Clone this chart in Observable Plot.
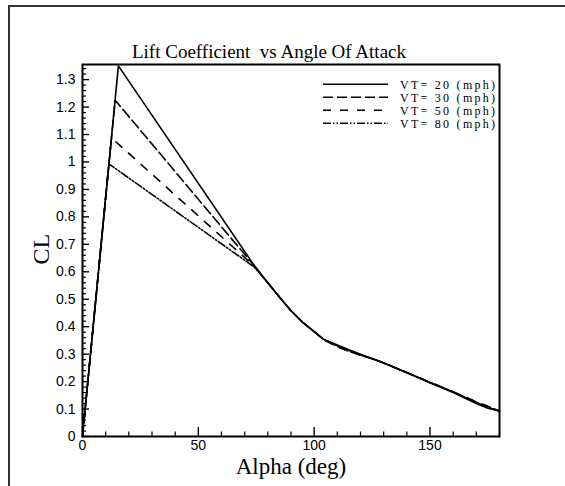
<!DOCTYPE html>
<html>
<head>
<meta charset="utf-8">
<script src="https://cdn.jsdelivr.net/npm/d3@7"></script>
<script src="https://cdn.jsdelivr.net/npm/@observablehq/plot@0.6"></script>
<style>
  html, body { margin: 0; padding: 0; background: #fff; }
  #page { position: relative; width: 565px; height: 486px; overflow: hidden; background: #fff; }
  #border { position: absolute; left: 8px; top: 5px; right: -10px; bottom: -10px;
            border-top: 2px solid #333; border-left: 2px solid #333; }
  #chart { position: absolute; left: 0; top: 0; }
</style>
</head>
<body>
<div id="page"><div id="border"></div><div id="chart"></div></div>
<script>
// Lift coefficient versus angle of attack, four tail velocities.
const title = "Lift Coefficient  vs Angle Of Attack";
const xLabel = "Alpha (deg)";
const yLabel = "CL";

const seriesNames = ["VT= 20 (mph)", "VT= 30 (mph)", "VT= 50 (mph)", "VT= 80 (mph)"];
const seriesDash = [null, "10,4", "8,9", "8,2,1.5,2,1.5,2"];

const vt20Alpha = [0, 15.5, 75, 80, 85, 90, 95, 100, 104, 110, 115, 120, 125, 130, 140, 150, 160, 165, 170, 175, 180];
const vt20CL    = [0, 1.35, 0.612, 0.56, 0.508, 0.458, 0.416, 0.382, 0.354, 0.333, 0.316, 0.300, 0.284, 0.268, 0.232, 0.196, 0.160, 0.140, 0.120, 0.103, 0.092];

const vt30Alpha = [0, 14.1, 75, 80, 85, 90, 95, 100, 104, 110, 115, 120, 125, 130, 140, 150, 160, 165, 170, 175, 180];
const vt30CL    = [0, 1.225, 0.613, 0.56, 0.508, 0.458, 0.416, 0.382, 0.354, 0.328, 0.310, 0.296, 0.283, 0.268, 0.233, 0.197, 0.162, 0.143, 0.124, 0.108, 0.094];

const vt50Alpha = [0, 12.5, 75, 80, 85, 90, 95, 100, 104, 110, 115, 120, 125, 130, 140, 150, 160, 165, 170, 175, 180];
const vt50CL    = [0, 1.088, 0.614, 0.56, 0.508, 0.458, 0.416, 0.382, 0.354, 0.326, 0.312, 0.297, 0.284, 0.268, 0.233, 0.198, 0.163, 0.145, 0.127, 0.110, 0.095];

const vt80Alpha = [0, 11.4, 74, 80, 85, 90, 95, 100, 104, 110, 115, 120, 125, 130, 140, 150, 160, 165, 170, 175, 180];
const vt80CL    = [0, 0.993, 0.618, 0.56, 0.508, 0.458, 0.416, 0.382, 0.354, 0.330, 0.313, 0.298, 0.284, 0.268, 0.233, 0.197, 0.162, 0.143, 0.125, 0.106, 0.093];

const xMajor = [0, 50, 100, 150];
const xMinor = d3.range(0, 181, 10).filter(v => v % 50 !== 0);
const yMajor = d3.range(0, 14).map(i => +(i / 10).toFixed(1));
const yMinor = d3.range(0, 68).map(i => +(i * 0.02).toFixed(2)).filter(v => Math.round(v * 100) % 10 !== 0);

const series = [
  {alpha: vt20Alpha, cl: vt20CL},
  {alpha: vt30Alpha, cl: vt30CL},
  {alpha: vt50Alpha, cl: vt50CL},
  {alpha: vt80Alpha, cl: vt80CL}
].map((s, i) => ({
  name: seriesNames[i],
  dash: seriesDash[i],
  rows: s.alpha.map((a, j) => ({alpha: a, cl: s.cl[j], series: seriesNames[i]}))
}));

const W = 565, H = 486;
const M = {left: 82, right: 66, top: 64, bottom: 50};
const plotW = W - M.left - M.right;
const plotH = H - M.top - M.bottom;

const serif = "'Liberation Serif', 'Times New Roman', serif";
const fmtY = d => String(+d.toFixed(1));

const chart = Plot.plot({
  width: W,
  height: H,
  marginLeft: M.left,
  marginRight: M.right,
  marginTop: M.top,
  marginBottom: M.bottom,
  style: {fontFamily: "'Liberation Sans', Arial, sans-serif", fontSize: "14px", color: "#000", background: "transparent", overflow: "visible"},
  x: {domain: [0, 180], label: null},
  y: {domain: [0, 1.355], label: null},
  marks: [
    // inward ticks
    Plot.tickY(yMinor, {y: d => d, insetRight: plotW - 4, stroke: "#000", strokeWidth: 1.2}),
    Plot.tickY(yMajor, {y: d => d, insetRight: plotW - 7, stroke: "#000", strokeWidth: 1.4}),
    Plot.tickX(xMinor, {x: d => d, insetTop: plotH - 4.5, stroke: "#000", strokeWidth: 1.2}),
    Plot.tickX(xMajor, {x: d => d, insetTop: plotH - 9, stroke: "#000", strokeWidth: 1.4}),
    // tick labels
    Plot.axisY(yMajor, {tickSize: 0, tickPadding: 7, tickFormat: fmtY, fontSize: 14, label: null}),
    Plot.axisX(xMajor, {tickSize: 0, tickPadding: 4, tickFormat: d => String(d), fontSize: 14, label: null}),
    // curves
    ...series.map(s => Plot.line(s.rows, {
      x: "alpha", y: "cl", stroke: "#000", strokeWidth: 1.6,
      strokeDasharray: s.dash, strokeLinejoin: "miter"
    })),
    Plot.frame({stroke: "#000", strokeWidth: 2}),
    // titles
    Plot.text([title], {frameAnchor: "top", dx: -22, dy: -20, fontFamily: serif, fontSize: 19, fill: "#000"}),
    Plot.text([xLabel], {frameAnchor: "bottom", dy: 37, fontFamily: serif, fontSize: 23, fill: "#000"}),
    Plot.text([yLabel], {frameAnchor: "left", dx: -41, dy: 14, rotate: -90, fontFamily: serif, fontSize: 24, fill: "#000"})
  ]
});

// legend in the upper right of the frame
const svg = d3.select(chart);
const legend = svg.append("g").attr("class", "legend").attr("text-anchor", "start");
seriesNames.forEach((name, i) => {
  const y = 84.3 + i * 13;
  legend.append("line")
    .attr("x1", 323).attr("x2", 388).attr("y1", y).attr("y2", y)
    .attr("stroke", "#000").attr("stroke-width", 1.6)
    .attr("stroke-dasharray", seriesDash[i]);
  legend.append("text")
    .attr("x", 400).attr("y", y).attr("dy", "0.36em")
    .attr("text-anchor", "start")
    .attr("font-family", serif).attr("font-size", 12)
    .attr("textLength", 95).attr("lengthAdjust", "spacing")
    .attr("fill", "#000")
    .text(name);
});

document.getElementById("chart").appendChild(chart);
</script>
</body>
</html>
